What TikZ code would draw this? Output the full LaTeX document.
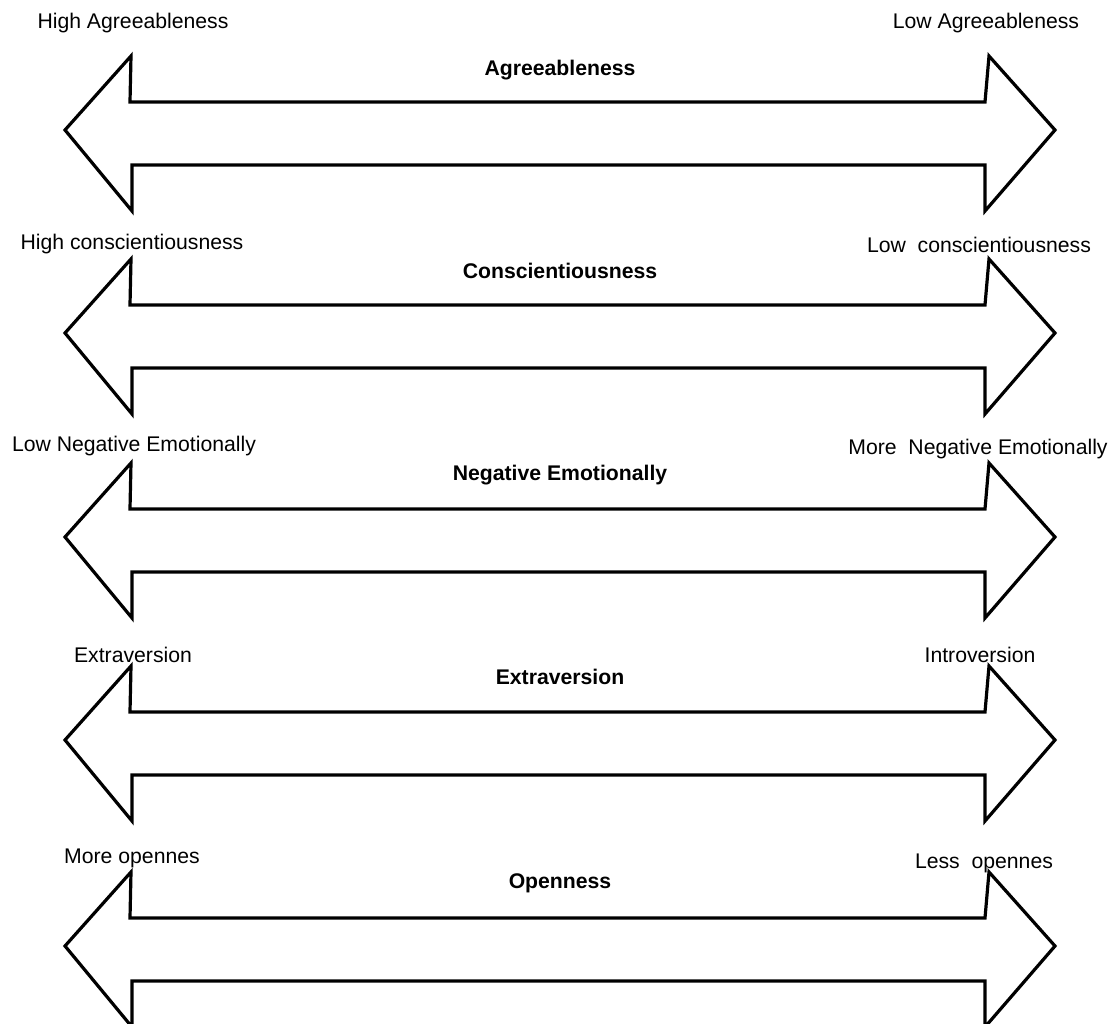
\documentclass[tikz,border=0pt]{standalone}
\usepackage{fontspec}
\setmainfont{Liberation Sans}
\begin{document}
\begin{tikzpicture}[x=1pt,y=-1pt,
  endlabel/.style={anchor=base,inner sep=0pt,font=\fontsize{21.2}{25}\selectfont},
  scaletitle/.style={anchor=base,inner sep=0pt,font=\fontsize{21.2}{25}\selectfont\bfseries},
  outline/.style={draw=black,line width=3.2pt,line join=miter,fill=white},
  bigarrow/.pic={
    \draw[outline] (65,0) -- (131,-74) -- (130,-28) -- (985,-28) -- (989,-74)
      -- (1055,0) -- (985,81) -- (985,35) -- (132,35) -- (132,81) -- cycle;
  }]
\useasboundingbox (0,0) rectangle (1114,1023);

% double-headed scale arrows, one per trait
\foreach \c/\n in {130/a,333/b,537/c,740/d,946/e}
  \pic (arrow\n) at (0,\c) {bigarrow};

% trait names
\node[scaletitle] (tA) at (560,75)  {Agreeableness};
\node[scaletitle] (tB) at (560,278) {Conscientiousness};
\node[scaletitle] (tC) at (560,480) {Negative Emotionally};
\node[scaletitle] (tD) at (560,684) {Extraversion};
\node[scaletitle] (tE) at (560,888) {Openness};

% left-hand poles
\node[endlabel] (lA) at (133,28)  {High Agreeableness};
\node[endlabel] (lB) at (132,249) {High conscientiousness};
\node[endlabel] (lC) at (134,451) {Low Negative Emotionally};
\node[endlabel] (lD) at (133,662) {Extraversion};
\node[endlabel] (lE) at (132,863) {More opennes};

% right-hand poles
\node[endlabel] (rA) at (986,28)  {Low Agreeableness};
\node[endlabel] (rB) at (979,252) {Low\ \ conscientiousness};
\node[endlabel] (rC) at (978,454) {More\ \ Negative Emotionally};
\node[endlabel] (rD) at (980,662) {Introversion};
\node[endlabel] (rE) at (984,868) {Less\ \ opennes};
\end{tikzpicture}
\end{document}
